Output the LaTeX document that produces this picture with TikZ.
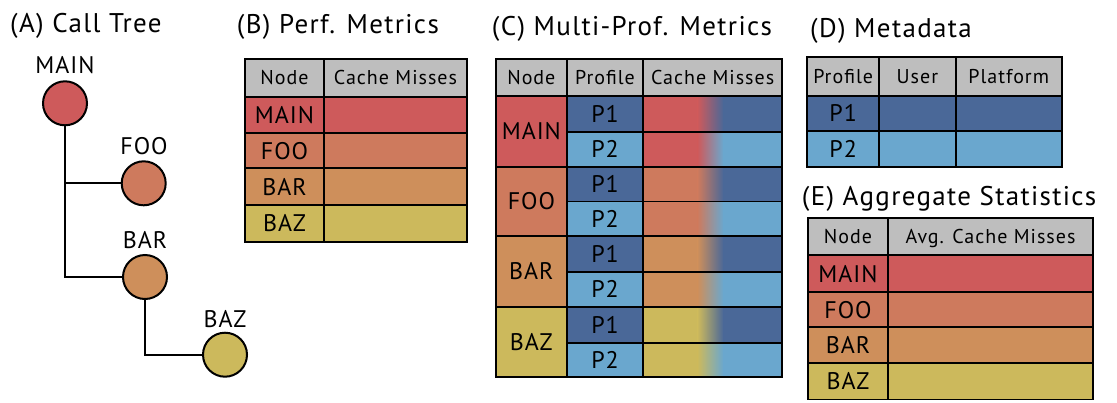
\documentclass[tikz,border=0pt]{standalone}
\usepackage{fontspec}
\setmainfont{PT Sans}
\newfontfamily\ttlfont[LetterSpace=5]{PT Sans}
\newfontfamily\hdrfont[LetterSpace=5]{PT Sans}
\newfontfamily\labfont[LetterSpace=4]{PT Sans}
\definecolor{cmain}{RGB}{206,90,91}
\definecolor{cfoo}{RGB}{206,122,93}
\definecolor{cbar}{RGB}{206,143,91}
\definecolor{cbaz}{RGB}{204,185,92}
\definecolor{cpone}{RGB}{74,104,152}
\definecolor{cptwo}{RGB}{106,167,206}
\definecolor{chead}{RGB}{190,190,190}
\tikzset{
  cell/.style={draw=black,line width=1.8pt,inner sep=0pt,outer sep=0pt,rectangle,text depth=0pt},
  hdr/.style={cell,fill=chead,font=\hdrfont\fontsize{20}{22}\selectfont,text height=14pt},
  lab/.style={cell,font=\labfont\fontsize{24}{26}\selectfont,text height=16.8pt},
  ttl/.style={anchor=base west,inner sep=0pt,font=\ttlfont\fontsize{27}{29}\selectfont},
  tnode/.style={circle,draw=black,line width=2pt,minimum size=44pt,inner sep=0pt},
  tlab/.style={inner sep=0pt,font=\labfont\fontsize{24}{26}\selectfont,text height=16.8pt,text depth=0pt},
  tline/.style={line width=2pt,draw=black}
}
\newcommand\mycell[7][]{\node[#1,minimum width={(#5-#3)*1pt},minimum height={(#6-#4)*1pt}] (#2) at ({(#3+#5)/2},{(#4+#6)/2}) {#7};}
\begin{document}
\begin{tikzpicture}[x=1pt,y=-1pt]
\useasboundingbox (0,0) rectangle (1117,402);
% ---------- (A) Call tree
\node[ttl] (ta) at (10,32.3) {(A) Call Tree};
\node[tnode,fill=cmain] (main) at (65,103.3) {};
\node[tnode,fill=cfoo] (foo) at (143.7,183.3) {};
\node[tnode,fill=cbar] (bar) at (145,277) {};
\node[tnode,fill=cbaz] (baz) at (225,354.7) {};
\node[tlab] (lmain) at (65,65) {MAIN};
\node[tlab] (lfoo) at (144,146) {FOO};
\node[tlab] (lbar) at (145,240) {BAR};
\node[tlab] (lbaz) at (225,319) {BAZ};
\draw[tline] (main.south) -- (main.south |- bar.west) -- (bar.west);
\draw[tline] (main.south |- foo.west) -- (foo.west);
\draw[tline] (bar.south) -- (bar.south |- baz.west) -- (baz.west);
% ---------- (B) Perf metrics
\node[ttl] (tb) at (236.7,33.3) {(B) Perf. Metrics};
\mycell[hdr]{bh1}{245}{59}{324}{96.7}{Node}
\mycell[hdr]{bh2}{324}{59}{467}{96.7}{Cache Misses}
\mycell[lab,fill=cmain]{bmain}{245}{96.7}{324}{133.3}{MAIN}
\mycell[lab,fill=cmain]{bmainv}{324}{96.7}{467}{133.3}{}
\mycell[lab,fill=cfoo]{bfoo}{245}{133.3}{324}{168.3}{FOO}
\mycell[lab,fill=cfoo]{bfoov}{324}{133.3}{467}{168.3}{}
\mycell[lab,fill=cbar]{bbar}{245}{168.3}{324}{205}{BAR}
\mycell[lab,fill=cbar]{bbarv}{324}{168.3}{467}{205}{}
\mycell[lab,fill=cbaz]{bbaz}{245}{205}{324}{241.7}{BAZ}
\mycell[lab,fill=cbaz]{bbazv}{324}{205}{467}{241.7}{}
% ---------- (C) Multi-profile metrics
\node[ttl] (tc) at (491.7,35) {(C) Multi-Prof. Metrics};
\mycell[hdr]{ch1}{496}{59.3}{566.7}{96}{Node}
\mycell[hdr]{ch2}{566.7}{59.3}{643.3}{96}{Profile}
\mycell[hdr]{ch3}{643.3}{59.3}{782}{96}{Cache Misses}
\foreach \yt/\yb/\nc/\pc/\nm/\pl in {
  96/132.3/cmain/cpone/cmainone/P1, 132.3/166.7/cmain/cptwo/cmaintwo/P2,
  166.7/201.5/cfoo/cpone/cfooone/P1, 201.5/236/cfoo/cptwo/cfootwo/P2,
  236/272.3/cbar/cpone/cbarone/P1, 272.3/306.7/cbar/cptwo/cbartwo/P2,
  306.7/342.7/cbaz/cpone/cbazone/P1, 342.7/376.7/cbaz/cptwo/cbaztwo/P2}{
  \fill[\nc] (643.3,\yt) rectangle (698,\yb);
  \shade[left color=\nc,right color=\pc] (697.5,\yt) rectangle (723.5,\yb);
  \fill[\pc] (723,\yt) rectangle (782,\yb);
  \mycell[lab]{\nm v}{643.3}{\yt}{782}{\yb}{}
  \mycell[lab,fill=\pc]{\nm p}{566.7}{\yt}{643.3}{\yb}{\pl}
}
\mycell[lab,fill=cmain]{cmain}{496}{96}{566.7}{166.7}{MAIN}
\mycell[lab,fill=cfoo]{cfoo}{496}{166.7}{566.7}{236}{FOO}
\mycell[lab,fill=cbar]{cbar}{496}{236}{566.7}{306.7}{BAR}
\mycell[lab,fill=cbaz]{cbaz}{496}{306.7}{566.7}{376.7}{BAZ}
% ---------- (D) Metadata
\node[ttl] (td) at (810,37.7) {(D) Metadata};
\mycell[hdr]{dh1}{807.3}{57.3}{879}{95.7}{Profile}
\mycell[hdr]{dh2}{879}{57.3}{955.7}{95.7}{User}
\mycell[hdr]{dh3}{955.7}{57.3}{1061.7}{95.7}{Platform}
\mycell[lab,fill=cpone]{dp1}{807.3}{95.7}{879}{131}{P1}
\mycell[lab,fill=cpone]{dp1u}{879}{95.7}{955.7}{131}{}
\mycell[lab,fill=cpone]{dp1p}{955.7}{95.7}{1061.7}{131}{}
\mycell[lab,fill=cptwo]{dp2}{807.3}{131}{879}{166.7}{P2}
\mycell[lab,fill=cptwo]{dp2u}{879}{131}{955.7}{166.7}{}
\mycell[lab,fill=cptwo]{dp2p}{955.7}{131}{1061.7}{166.7}{}
% ---------- (E) Aggregate statistics
\node[ttl] (te) at (801.7,205) {(E) Aggregate Statistics};
\mycell[hdr]{eh1}{808.3}{218.3}{887.7}{255}{Node}
\mycell[hdr]{eh2}{887.7}{218.3}{1093.3}{255}{Avg. Cache Misses}
\mycell[lab,fill=cmain]{emain}{808.3}{255}{887.7}{292.3}{MAIN}
\mycell[lab,fill=cmain]{emainv}{887.7}{255}{1093.3}{292.3}{}
\mycell[lab,fill=cfoo]{efoo}{808.3}{292.3}{887.7}{327.3}{FOO}
\mycell[lab,fill=cfoo]{efoov}{887.7}{292.3}{1093.3}{327.3}{}
\mycell[lab,fill=cbar]{ebar}{808.3}{327.3}{887.7}{363.3}{BAR}
\mycell[lab,fill=cbar]{ebarv}{887.7}{327.3}{1093.3}{363.3}{}
\mycell[lab,fill=cbaz]{ebaz}{808.3}{363.3}{887.7}{399.5}{BAZ}
\mycell[lab,fill=cbaz]{ebazv}{887.7}{363.3}{1093.3}{399.5}{}
\end{tikzpicture}
\end{document}
